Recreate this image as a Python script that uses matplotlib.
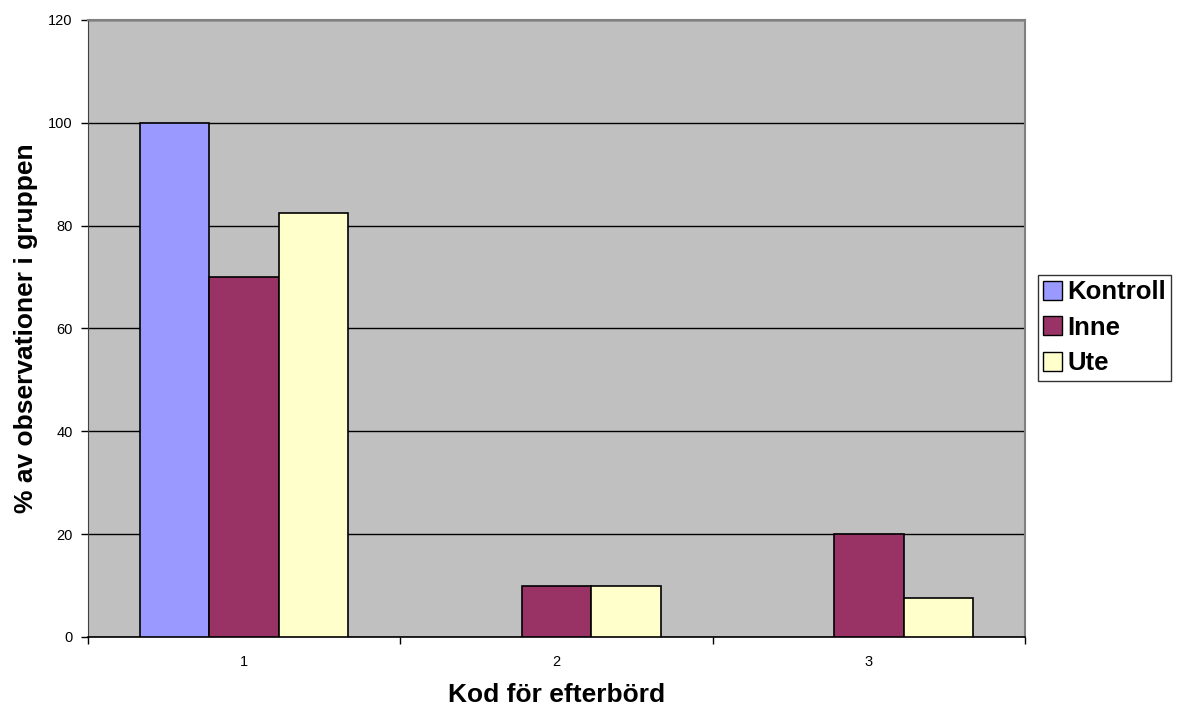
import numpy as np
import matplotlib
matplotlib.use("Agg")
import matplotlib.pyplot as plt
from matplotlib.patches import Patch

plt.rcParams["font.family"] = ["Liberation Sans", "DejaVu Sans"]

# ── data ───────────────────────────────────────────────────────────────────
categories = ["1", "2", "3"]
series = ["Kontroll", "Inne", "Ute"]
kontroll = [100, 0, 0]
inne = [70, 10, 20]
ute = [82.5, 10, 7.5]
colors = ["#9999FF", "#993366", "#FFFFCC"]

# ── figure ─────────────────────────────────────────────────────────────────
fig = plt.figure(figsize=(11.79, 7.08), dpi=100)
ax = fig.add_axes([0.0746, 0.1003, 0.7948, 0.8715])
ax.set_facecolor("#C0C0C0")

x = np.arange(len(categories))
w = 1 / 4.5
for i, (vals, col) in enumerate(zip([kontroll, inne, ute], colors)):
    vals = np.array(vals, dtype=float)
    keep = vals > 0
    ax.bar(x[keep] + (i - 1) * w, vals[keep], width=w, color=col,
           edgecolor="black", linewidth=1.2, zorder=3)

ax.set_xlim(-0.5, 2.5)
ax.set_ylim(0, 120)
ax.set_yticks(range(0, 121, 20))
ax.set_yticklabels([str(v) for v in range(0, 121, 20)], fontsize=10.5)
ax.yaxis.grid(True, color="black", linewidth=1.0, zorder=1)
ax.set_axisbelow(True)

# category labels centred, tick marks on the boundaries
ax.set_xticks(x)
ax.set_xticklabels(categories, fontsize=10.5)
ax.tick_params(axis="x", length=0, pad=13)
ax.set_xticks([-0.5, 0.5, 1.5, 2.5], minor=True)
ax.tick_params(axis="x", which="minor", length=5, width=1.0, color="black")
ax.tick_params(axis="y", length=5, width=1.0, color="black", pad=6)

for s in ["top", "right"]:
    ax.spines[s].set_color("#808080")
    ax.spines[s].set_linewidth(1.5)
ax.spines["left"].set_color("#404040")
ax.spines["bottom"].set_color("black")
ax.spines["bottom"].set_linewidth(1.2)

ax.set_xlabel("Kod för efterbörd", fontsize=19, fontweight="bold", labelpad=10)
ax.set_ylabel("% av observationer i gruppen", fontsize=19, fontweight="bold", labelpad=7)

handles = [Patch(facecolor=c, edgecolor="black", linewidth=1.0) for c in colors]
fig.legend(handles, series, loc="center left", bbox_to_anchor=(0.880, 0.537),
           prop={"size": 18.5, "weight": "bold"}, frameon=True, fancybox=False,
           edgecolor="black", handlelength=0.75, handleheight=0.75,
           handletextpad=0.2, labelspacing=0.45, borderpad=0.2,
           borderaxespad=0)

fig.savefig("out.png", dpi=100)
